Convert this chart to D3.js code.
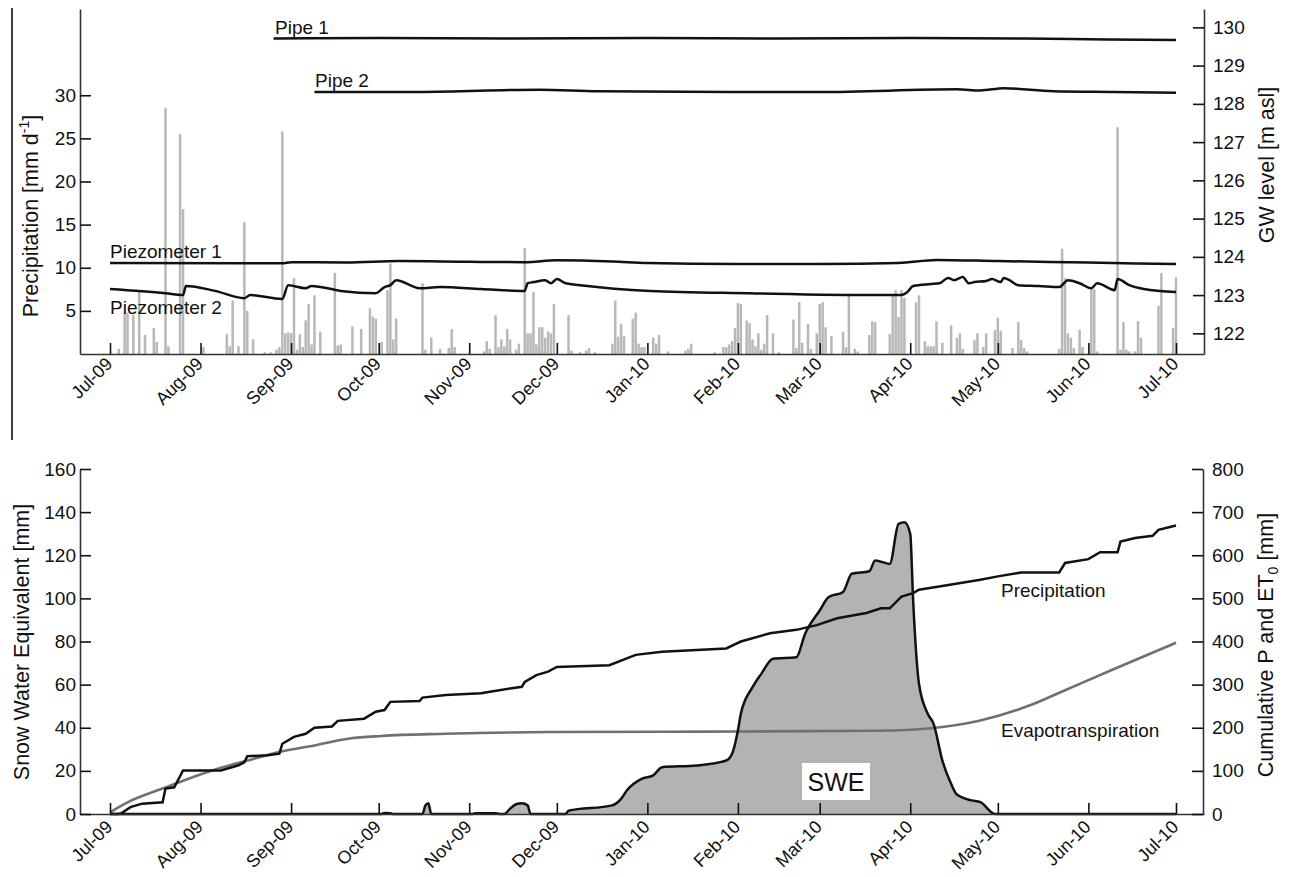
<!DOCTYPE html>
<meta charset="utf-8">
<style>
  body { margin: 0; background: #fff; }
  svg { font-family: "Liberation Sans", Arial, sans-serif; }
</style>
<body>
<div id="vis"></div>
<script src="https://d3js.org/d3.v7.min.js"></script>
<script>

// month tick positions (first of each month)
var monthTicks = ["2009-07-01","2009-08-01","2009-09-01","2009-10-01","2009-11-01","2009-12-01",
  "2010-01-01","2010-02-01","2010-03-01","2010-04-01","2010-05-01","2010-06-01","2010-07-01"];

var precipTicks = [5, 10, 15, 20, 25, 30];
var gwTicks = [122, 123, 124, 125, 126, 127, 128, 129, 130];
var sweTicks = [0, 20, 40, 60, 80, 100, 120, 140, 160];
var cumTicks = [0, 100, 200, 300, 400, 500, 600, 700, 800];

// daily precipitation [mm/d]
var precipDaily = [
  ["2009-07-04",0.6],["2009-07-06",4.8],["2009-07-07",4.8],["2009-07-09",4.5],["2009-07-11",7.4],
  ["2009-07-13",2.2],["2009-07-16",3.0],["2009-07-17",1.4],["2009-07-20",28.5],["2009-07-21",0.9],
  ["2009-07-25",25.5],["2009-07-26",16.8],["2009-08-02",0.8],["2009-08-10",2.3],["2009-08-11",0.9],
  ["2009-08-12",6.2],["2009-08-14",0.9],["2009-08-16",15.3],["2009-08-17",5.0],["2009-08-19",1.7],
  ["2009-08-23",0.2],["2009-08-25",0.2],["2009-08-27",0.5],["2009-08-28",0.8],["2009-08-29",25.8],
  ["2009-08-30",2.4],["2009-08-31",2.5],["2009-09-01",2.4],["2009-09-02",8.8],["2009-09-03",0.5],
  ["2009-09-04",2.3],["2009-09-05",0.8],["2009-09-06",3.9],["2009-09-07",5.8],["2009-09-08",1.1],
  ["2009-09-09",6.8],["2009-09-11",2.6],["2009-09-16",9.4],["2009-09-17",1.0],["2009-09-18",1.1],
  ["2009-09-22",3.2],["2009-09-25",2.9],["2009-09-28",5.3],["2009-09-29",4.3],["2009-09-30",4.1],
  ["2009-10-02",1.4],["2009-10-04",7.4],["2009-10-05",10.5],["2009-10-06",1.7],["2009-10-07",4.1],
  ["2009-10-16",8.2],["2009-10-17",0.5],["2009-10-19",1.9],["2009-10-22",0.6],["2009-10-25",0.7],
  ["2009-10-26",2.9],["2009-10-27",0.8],["2009-11-06",0.3],["2009-11-07",1.5],["2009-11-08",0.6],
  ["2009-11-10",4.5],["2009-11-11",0.8],["2009-11-12",1.7],["2009-11-13",0.9],["2009-11-14",2.9],
  ["2009-11-15",1.7],["2009-11-17",0.5],["2009-11-18",1.2],["2009-11-20",12.3],["2009-11-21",2.4],
  ["2009-11-22",2.4],["2009-11-23",7.2],["2009-11-24",1.1],["2009-11-25",3.1],["2009-11-26",3.1],
  ["2009-11-27",1.9],["2009-11-28",2.6],["2009-11-29",2.4],["2009-11-30",5.8],["2009-12-05",4.5],
  ["2009-12-06",0.4],["2009-12-09",0.2],["2009-12-11",0.4],["2009-12-12",0.7],["2009-12-14",0.2],
  ["2009-12-20",1.2],["2009-12-21",6.2],["2009-12-22",2.0],["2009-12-23",3.5],["2009-12-24",2.1],
  ["2009-12-27",4.1],["2009-12-28",4.8],["2009-12-29",1.2],["2009-12-30",0.8],["2009-12-31",0.8],
  ["2010-01-03",1.9],["2010-01-04",1.2],["2010-01-05",2.2],["2010-01-08",0.3],["2010-01-14",0.4],
  ["2010-01-15",0.6],["2010-01-16",1.2],["2010-01-24",0.2],["2010-01-27",0.8],["2010-01-28",0.8],
  ["2010-01-29",1.1],["2010-01-30",1.5],["2010-01-31",3.0],["2010-02-01",5.9],["2010-02-02",5.8],
  ["2010-02-04",3.9],["2010-02-05",3.6],["2010-02-06",1.7],["2010-02-07",0.9],["2010-02-08",2.4],
  ["2010-02-09",0.5],["2010-02-10",1.2],["2010-02-11",4.5],["2010-02-13",2.4],["2010-02-15",0.2],
  ["2010-02-20",4.0],["2010-02-21",0.7],["2010-02-22",6.0],["2010-02-23",1.3],["2010-02-25",3.5],
  ["2010-02-26",0.6],["2010-02-28",2.4],["2010-03-01",5.8],["2010-03-02",6.0],["2010-03-03",3.1],
  ["2010-03-05",2.1],["2010-03-09",2.6],["2010-03-10",0.8],["2010-03-11",7.0],["2010-03-13",0.6],
  ["2010-03-14",0.3],["2010-03-18",2.2],["2010-03-19",3.8],["2010-03-20",3.7],["2010-03-25",2.3],
  ["2010-03-26",6.8],["2010-03-27",7.4],["2010-03-28",4.3],["2010-03-29",7.4],["2010-03-30",6.5],
  ["2010-04-03",6.0],["2010-04-04",6.8],["2010-04-06",1.5],["2010-04-07",0.9],["2010-04-08",0.9],
  ["2010-04-09",0.9],["2010-04-10",3.8],["2010-04-12",1.3],["2010-04-15",3.3],["2010-04-17",1.9],
  ["2010-04-18",2.4],["2010-04-19",0.6],["2010-04-23",1.6],["2010-04-24",2.4],["2010-04-26",0.8],
  ["2010-04-27",2.4],["2010-04-30",2.8],["2010-05-01",4.2],["2010-05-02",2.7],["2010-05-06",0.7],
  ["2010-05-08",3.7],["2010-05-09",1.6],["2010-05-10",0.7],["2010-05-11",0.3],["2010-05-22",0.6],
  ["2010-05-23",12.2],["2010-05-24",8.8],["2010-05-25",2.4],["2010-05-26",1.9],["2010-05-27",0.7],
  ["2010-05-29",2.8],["2010-05-30",0.8],["2010-06-02",7.5],["2010-06-03",7.5],["2010-06-04",0.3],
  ["2010-06-11",26.3],["2010-06-12",0.5],["2010-06-13",3.7],["2010-06-14",0.5],["2010-06-15",0.3],
  ["2010-06-17",0.3],["2010-06-18",3.8],["2010-06-19",1.9],["2010-06-25",5.6],["2010-06-26",9.4],
  ["2010-06-30",3.0],["2010-07-01",8.9]
];

// groundwater levels [m asl]
var pipe1 = [
  ["2009-08-26",129.71],["2009-10-01",129.72],["2009-11-15",129.71],["2010-01-01",129.72],
  ["2010-02-15",129.71],["2010-04-01",129.72],["2010-05-10",129.71],["2010-06-01",129.69],["2010-07-01",129.67]
];
var pipe2 = [
  ["2009-09-09",128.31],["2009-10-15",128.31],["2009-11-25",128.37],["2009-12-15",128.33],
  ["2010-01-29",128.31],["2010-03-01",128.31],["2010-04-17",128.38],["2010-04-25",128.35],
  ["2010-05-03",128.41],["2010-05-20",128.33],["2010-06-10",128.31],["2010-07-01",128.29]
];
var piezo1 = [
  ["2009-07-01",123.84],["2009-08-15",123.83],["2009-08-29",123.83],["2009-09-01",123.86],
  ["2009-09-20",123.85],["2009-10-08",123.89],["2009-11-01",123.87],["2009-11-20",123.86],
  ["2009-12-01",123.91],["2009-12-20",123.88],["2010-01-01",123.84],["2010-02-01",123.81],
  ["2010-03-01",123.81],["2010-03-28",123.84],["2010-04-10",123.92],["2010-05-01",123.89],
  ["2010-06-01",123.85],["2010-07-01",123.81]
];
var piezo2 = [
  ["2009-07-01",123.16],["2009-07-20",123.05],["2009-07-26",123.00],["2009-07-27",123.24],
  ["2009-08-06",123.11],["2009-08-16",122.92],["2009-08-18",123.00],["2009-08-29",122.90],
  ["2009-08-31",123.26],["2009-09-06",123.18],["2009-09-08",123.24],["2009-09-18",123.11],
  ["2009-09-30",123.05],["2009-10-03",123.21],["2009-10-05",123.26],["2009-10-07",123.39],
  ["2009-10-15",123.18],["2009-10-22",123.21],["2009-11-05",123.16],["2009-11-20",123.11],
  ["2009-11-21",123.31],["2009-11-23",123.34],["2009-11-27",123.39],["2009-11-29",123.31],
  ["2009-12-01",123.42],["2009-12-04",123.31],["2009-12-09",123.26],["2010-01-02",123.11],
  ["2010-02-05",123.05],["2010-03-21",123.00],["2010-03-29",123.00],["2010-03-31",123.08],
  ["2010-04-02",123.24],["2010-04-08",123.29],["2010-04-11",123.31],["2010-04-14",123.45],
  ["2010-04-16",123.39],["2010-04-19",123.47],["2010-04-21",123.31],["2010-04-23",123.34],
  ["2010-04-27",123.37],["2010-04-29",123.42],["2010-05-02",123.34],["2010-05-03",123.45],
  ["2010-05-05",123.39],["2010-05-08",123.26],["2010-05-15",123.24],["2010-05-22",123.21],
  ["2010-05-25",123.39],["2010-05-29",123.31],["2010-06-02",123.18],["2010-06-04",123.31],
  ["2010-06-10",123.13],["2010-06-11",123.42],["2010-06-15",123.26],["2010-06-20",123.16],
  ["2010-07-01",123.08]
];

// snow water equivalent [mm]
var swe = [
  ["2009-07-01",0],["2009-10-02",0],["2009-10-03",0.5],["2009-10-05",0.4],["2009-10-06",0],
  ["2009-10-16",0],["2009-10-17",4],["2009-10-18",5],["2009-10-19",0],["2009-11-02",0],
  ["2009-11-03",0.3],["2009-11-10",0.3],["2009-11-12",0],["2009-11-13",0],["2009-11-15",2.5],
  ["2009-11-17",4.5],["2009-11-19",5],["2009-11-21",4],["2009-11-22",0],["2009-12-04",0],
  ["2009-12-05",1.5],["2009-12-20",4],["2009-12-23",7],["2009-12-25",11],["2009-12-30",16.3],
  ["2010-01-03",17.9],["2010-01-06",21.7],["2010-01-18",22.5],["2010-01-28",24.8],["2010-01-30",27.9],
  ["2010-02-01",38.7],["2010-02-02",46.5],["2010-02-06",58.8],["2010-02-09",65],["2010-02-13",72],
  ["2010-02-21",72.7],["2010-02-24",83.6],["2010-03-01",94.4],["2010-03-04",100.5],["2010-03-09",103],
  ["2010-03-12",111.4],["2010-03-18",112.6],["2010-03-20",117.6],["2010-03-25",116],["2010-03-28",134.6],
  ["2010-03-30",135.3],["2010-04-01",130],["2010-04-02",99],["2010-04-04",60.4],["2010-04-07",46.5],
  ["2010-04-09",41.8],["2010-04-12",24.8],["2010-04-15",14],["2010-04-17",9],["2010-04-22",6.3],
  ["2010-04-25",5.5],["2010-04-30",0],["2010-07-01",0]
];

// cumulative precipitation and reference evapotranspiration [mm]
var cumPrecip = [
  ["2009-07-01",0],["2009-07-04",0],["2009-07-05",2],["2009-07-08",16],["2009-07-12",24],["2009-07-19",27],
  ["2009-07-20",59],["2009-07-23",62],["2009-07-26",101],["2009-08-08",101],["2009-08-14",113],
  ["2009-08-16",120],["2009-08-17",134],["2009-08-24",136],["2009-08-28",140],["2009-08-29",163],
  ["2009-09-02",179],["2009-09-06",186],["2009-09-09",200],["2009-09-15",203],["2009-09-17",216],
  ["2009-09-26",221],["2009-09-30",237],["2009-10-03",241],["2009-10-05",260],["2009-10-15",262],
  ["2009-10-16",270],["2009-10-24",276],["2009-11-05",280],["2009-11-15",291],["2009-11-19",295],
  ["2009-11-20",306],["2009-11-24",322],["2009-11-28",330],["2009-12-01",341],["2009-12-19",345],
  ["2009-12-28",369],["2010-01-06",376],["2010-01-28",384],["2010-02-02",400],["2010-02-12",419],
  ["2010-02-21",427],["2010-02-28",438],["2010-03-07",454],["2010-03-17",466],["2010-03-22",477],
  ["2010-03-25",477],["2010-03-29",504],["2010-04-02",512],["2010-04-04",520],["2010-04-13",530],
  ["2010-04-25",543],["2010-05-01",551],["2010-05-09",560],["2010-05-22",560],["2010-05-24",582],
  ["2010-06-01",591],["2010-06-05",607],["2010-06-11",607],["2010-06-12",632],["2010-06-17",640],
  ["2010-06-23",645],["2010-06-25",659],["2010-07-01",669]
];
var cumET = [
  ["2009-07-01",4],["2009-07-07",27],["2009-07-19",59],["2009-08-05",101],["2009-08-17",124],
  ["2009-08-28",144],["2009-09-09",159],["2009-09-21",175],["2009-10-02",181],["2009-10-24",186],
  ["2009-11-28",190],["2010-01-20",191],["2010-03-21",193],["2010-04-08",199],["2010-04-25",217],
  ["2010-05-12",252],["2010-05-24",287],["2010-06-09",334],["2010-07-01",397]
];

var parse = d3.timeParse("%Y-%m-%d");
function rows(a) { return a.map(function (d) { return { date: parse(d[0]), v: d[1] }; }); }

var W = 1290, H = 877;
var svg = d3.select("#vis").append("svg").attr("width", W).attr("height", H)
  .style("background", "#fff");

// time scale: Jul-09 tick at 110, Jul-10 tick at 1176, axes run from 80 to 1204
var x0 = d3.scaleTime().domain([parse("2009-07-01"), parse("2010-07-01")]).range([110, 1176]);
var x = d3.scaleTime().domain([x0.invert(80), x0.invert(1204)]).range([80, 1204]);
var months = monthTicks.map(parse);

var yP = d3.scaleLinear().domain([0, 40]).range([354, 9]);
var yG = d3.scaleLinear().domain([121.46, 130.48]).range([354, 9]);
var yS = d3.scaleLinear().domain([0, 160]).range([814, 469]);
var yC = d3.scaleLinear().domain([0, 800]).range([814, 469]);

var ink = "#111";
var titleSize = 21.5, tickSize = 19, noteSize = 19;

// stray frame line on the left edge of the upper panel
svg.append("line").attr("x1", 12).attr("x2", 12).attr("y1", 8).attr("y2", 440)
  .attr("stroke", "#000").attr("stroke-width", 1.5);

function styleAxis(g, fs) {
  g.select(".domain").attr("stroke", "#333").attr("stroke-width", 1.6);
  g.selectAll(".tick line").attr("stroke", ink).attr("stroke-width", 1.6);
  g.selectAll(".tick text").attr("fill", ink).attr("font-size", fs || tickSize)
    .style("font-family", "'Liberation Sans', Arial, sans-serif");
}

function timeAxis(y, off) {
  var g = svg.append("g").attr("transform", "translate(0," + y + ")")
    .call(d3.axisBottom(x).tickValues(months).tickFormat(d3.timeFormat("%b-%y"))
      .tickSizeInner(-11).tickSizeOuter(0));
  styleAxis(g, 18);
  g.selectAll(".tick text").attr("y", 0).attr("dy", 0).attr("text-anchor", "end")
    .attr("transform", "translate(3," + off + ") rotate(-45)");
}

// ---------- upper panel ----------
svg.append("g").selectAll("rect")
  .data(rows(precipDaily))
  .enter().append("rect")
  .attr("x", function (d) { return x(d.date) - 1.25; })
  .attr("y", function (d) { return yP(d.v); })
  .attr("width", 2.5)
  .attr("height", function (d) { return yP(0) - yP(d.v); })
  .attr("fill", "#b8b8b8");

var gwLine = d3.line().x(function (d) { return x(d.date); }).y(function (d) { return yG(d.v); })
  .curve(d3.curveMonotoneX);
[pipe1, pipe2, piezo1, piezo2].forEach(function (s) {
  svg.append("path").datum(rows(s)).attr("d", gwLine)
    .attr("fill", "none").attr("stroke", ink).attr("stroke-width", 2.5);
});

var lab = svg.append("g").attr("font-size", noteSize).attr("fill", ink);
lab.append("text").attr("x", 275).attr("y", 34).text("Pipe 1");
lab.append("text").attr("x", 315).attr("y", 87).text("Pipe 2");
lab.append("text").attr("x", 110).attr("y", 258).text("Piezometer 1");
lab.append("text").attr("x", 110).attr("y", 314).text("Piezometer 2");

timeAxis(354, 11);

var gl = svg.append("g").attr("transform", "translate(80,0)")
  .call(d3.axisLeft(yP).tickValues(precipTicks).tickSizeInner(-11).tickSizeOuter(0).tickPadding(4));
styleAxis(gl);
var gr = svg.append("g").attr("transform", "translate(1204,0)")
  .call(d3.axisRight(yG).tickValues(gwTicks).tickSizeInner(-11).tickSizeOuter(0).tickPadding(9));
styleAxis(gr);

var t1 = svg.append("text").attr("transform", "translate(38,216) rotate(-90)")
  .attr("text-anchor", "middle").attr("font-size", titleSize).attr("fill", ink);
t1.append("tspan").text("Precipitation [mm d");
t1.append("tspan").attr("font-size", 14).attr("dy", -9).text("-1");
t1.append("tspan").attr("dy", 9).text("]");

svg.append("text").attr("transform", "translate(1274,165) rotate(-90)")
  .attr("text-anchor", "middle").attr("font-size", titleSize).attr("fill", ink)
  .text("GW level [m asl]");

// ---------- lower panel ----------
var area = d3.area().x(function (d) { return x(d.date); })
  .y0(yS(0)).y1(function (d) { return yS(d.v); }).curve(d3.curveMonotoneX);
var sweLine = d3.line().x(function (d) { return x(d.date); })
  .y(function (d) { return yS(d.v); }).curve(d3.curveMonotoneX);
svg.append("path").datum(rows(swe)).attr("d", area).attr("fill", "#b3b3b3");

var cLine = d3.line().x(function (d) { return x(d.date); }).y(function (d) { return yC(d.v); });
svg.append("path").datum(rows(cumET)).attr("d", cLine.curve(d3.curveMonotoneX))
  .attr("fill", "none").attr("stroke", "#707070").attr("stroke-width", 2.6);
svg.append("path").datum(rows(swe)).attr("d", sweLine)
  .attr("fill", "none").attr("stroke", ink).attr("stroke-width", 2.5);
svg.append("path").datum(rows(cumPrecip)).attr("d", cLine.curve(d3.curveLinear))
  .attr("fill", "none").attr("stroke", ink).attr("stroke-width", 2.5);

svg.append("rect").attr("x", 802).attr("y", 763).attr("width", 68).attr("height", 37).attr("fill", "#fff");
svg.append("text").attr("x", 836).attr("y", 791).attr("text-anchor", "middle")
  .attr("font-size", 25).attr("fill", ink).text("SWE");

var lab2 = svg.append("g").attr("font-size", noteSize).attr("fill", ink);
lab2.append("text").attr("x", 1001).attr("y", 597).text("Precipitation");
lab2.append("text").attr("x", 1001).attr("y", 737).text("Evapotranspiration");

timeAxis(814, 14);

var bl = svg.append("g").attr("transform", "translate(80,0)")
  .call(d3.axisLeft(yS).tickValues(sweTicks).tickSizeInner(-11).tickSizeOuter(0).tickPadding(4));
styleAxis(bl);
var br = svg.append("g").attr("transform", "translate(1203,0)")
  .call(d3.axisRight(yC).tickValues(cumTicks).tickSizeInner(-11).tickSizeOuter(0).tickPadding(9));
styleAxis(br);

svg.append("text").attr("transform", "translate(29,642) rotate(-90)")
  .attr("text-anchor", "middle").attr("font-size", titleSize).attr("fill", ink)
  .text("Snow Water Equivalent [mm]");

var t2 = svg.append("text").attr("transform", "translate(1273,645) rotate(-90)")
  .attr("text-anchor", "middle").attr("font-size", titleSize).attr("fill", ink);
t2.append("tspan").text("Cumulative P and ET");
t2.append("tspan").attr("font-size", 14).attr("dy", 5).text("0");
t2.append("tspan").attr("dy", -5).text(" [mm]");

</script>
